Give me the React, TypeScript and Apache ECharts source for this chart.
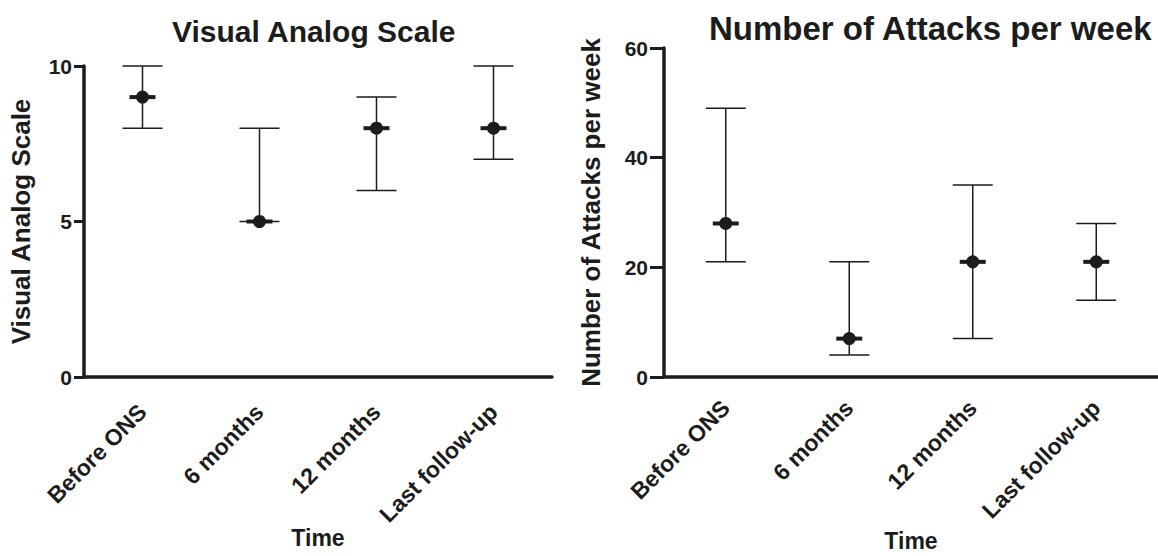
import React, { useEffect, useRef } from "react";
import * as echarts from "echarts";

const categories = ["Before ONS", "6 months", "12 months", "Last follow-up"];
const vasMedian = [9, 5, 8, 8];
const vasLow = [8, 5, 6, 7];
const vasHigh = [10, 8, 9, 10];
const attMedian = [28, 7, 21, 21];
const attLow = [21, 4, 7, 14];
const attHigh = [49, 21, 35, 28];

const INK = "#1c1c1c";
const FONT = "Liberation Sans, Arial, sans-serif";

function renderItem(params: any, api: any) {
  const x = api.value(0);
  const pM = api.coord([x, api.value(1)]);
  const pL = api.coord([x, api.value(2)]);
  const pH = api.coord([x, api.value(3)]);
  const cap = 20;
  const ls = { stroke: INK, lineWidth: 1.5 };
  return {
    type: "group",
    children: [
      { type: "line", shape: { x1: pM[0], y1: pH[1], x2: pM[0], y2: pL[1] }, style: ls },
      { type: "line", shape: { x1: pM[0] - cap, y1: pH[1], x2: pM[0] + cap, y2: pH[1] }, style: ls },
      { type: "line", shape: { x1: pM[0] - cap, y1: pL[1], x2: pM[0] + cap, y2: pL[1] }, style: ls },
      { type: "rect", shape: { x: pM[0] - 13, y: pM[1] - 2, width: 26, height: 4 }, style: { fill: INK } },
      { type: "circle", shape: { cx: pM[0], cy: pM[1], r: 6.5 }, style: { fill: INK } },
    ],
  };
}

function toData(med: number[], low: number[], high: number[]) {
  return categories.map((_, i) => [i, med[i], low[i], high[i]]);
}

function xAxis(gridIndex: number, margin: number, nameGap: number) {
  return {
    type: "category",
    gridIndex,
    data: categories,
    axisLine: { lineStyle: { color: INK, width: 3.5 } },
    axisTick: { alignWithLabel: true, length: 9, lineStyle: { color: INK, width: 3 } },
    axisLabel: { rotate: 45, color: INK, fontFamily: FONT, fontWeight: "bold", fontSize: 23, margin },
    name: "Time",
    nameLocation: "middle",
    nameGap,
    nameMoveOverlap: false,
    nameTextStyle: { color: INK, fontFamily: FONT, fontWeight: "bold", fontSize: 23 },
  };
}

function yAxis(
  gridIndex: number,
  max: number,
  interval: number,
  name: string,
  nameGap: number,
  tickLen: number,
  nameSize: number
) {
  return {
    type: "value",
    gridIndex,
    min: 0,
    max,
    interval,
    splitLine: { show: false },
    axisLine: { show: true, lineStyle: { color: INK, width: 3.5 } },
    axisTick: { show: true, length: tickLen, lineStyle: { color: INK, width: 3 } },
    axisLabel: { color: INK, fontFamily: FONT, fontWeight: "bold", fontSize: 21, margin: tickLen + 2 },
    name,
    nameLocation: "middle",
    nameGap,
    nameMoveOverlap: false,
    nameTextStyle: { color: INK, fontFamily: FONT, fontWeight: "bold", fontSize: nameSize },
  };
}

export default function App() {
  const ref = useRef<HTMLDivElement>(null);
  useEffect(() => {
    if (!ref.current) return;
    const chart = echarts.init(ref.current, null, { renderer: "svg" });
    chart.setOption({
      animation: false,
      backgroundColor: "#ffffff",
      title: [
        {
          text: "Visual Analog Scale",
          left: 167,
          top: 11,
          textStyle: { color: INK, fontFamily: FONT, fontWeight: "bold", fontSize: 30 },
        },
        {
          text: "Number of Attacks per week",
          left: 704,
          top: 7,
          textStyle: { color: INK, fontFamily: FONT, fontWeight: "bold", fontSize: 33 },
        },
      ],
      grid: [
        { left: 84, top: 66, width: 468, height: 311, outerBoundsMode: "none", containLabel: false },
        { left: 664, top: 48, width: 494, height: 329, outerBoundsMode: "none", containLabel: false },
      ],
      xAxis: [xAxis(0, 31, 149), xAxis(1, 27, 152)],
      yAxis: [
        yAxis(0, 10, 5, "Visual Analog Scale", 50, 10, 26),
        yAxis(1, 60, 20, "Number of Attacks per week", 60, 14, 26),
      ],
      series: [
        {
          type: "custom",
          xAxisIndex: 0,
          yAxisIndex: 0,
          renderItem,
          encode: { x: 0, y: [1, 2, 3] },
          data: toData(vasMedian, vasLow, vasHigh),
        },
        {
          type: "custom",
          xAxisIndex: 1,
          yAxisIndex: 1,
          renderItem,
          encode: { x: 0, y: [1, 2, 3] },
          data: toData(attMedian, attLow, attHigh),
        },
      ],
    });
    return () => chart.dispose();
  }, []);
  return (
    <div
      ref={ref}
      style={{ position: "fixed", left: 0, top: 0, width: 1158, height: 556 }}
    />
  );
}
